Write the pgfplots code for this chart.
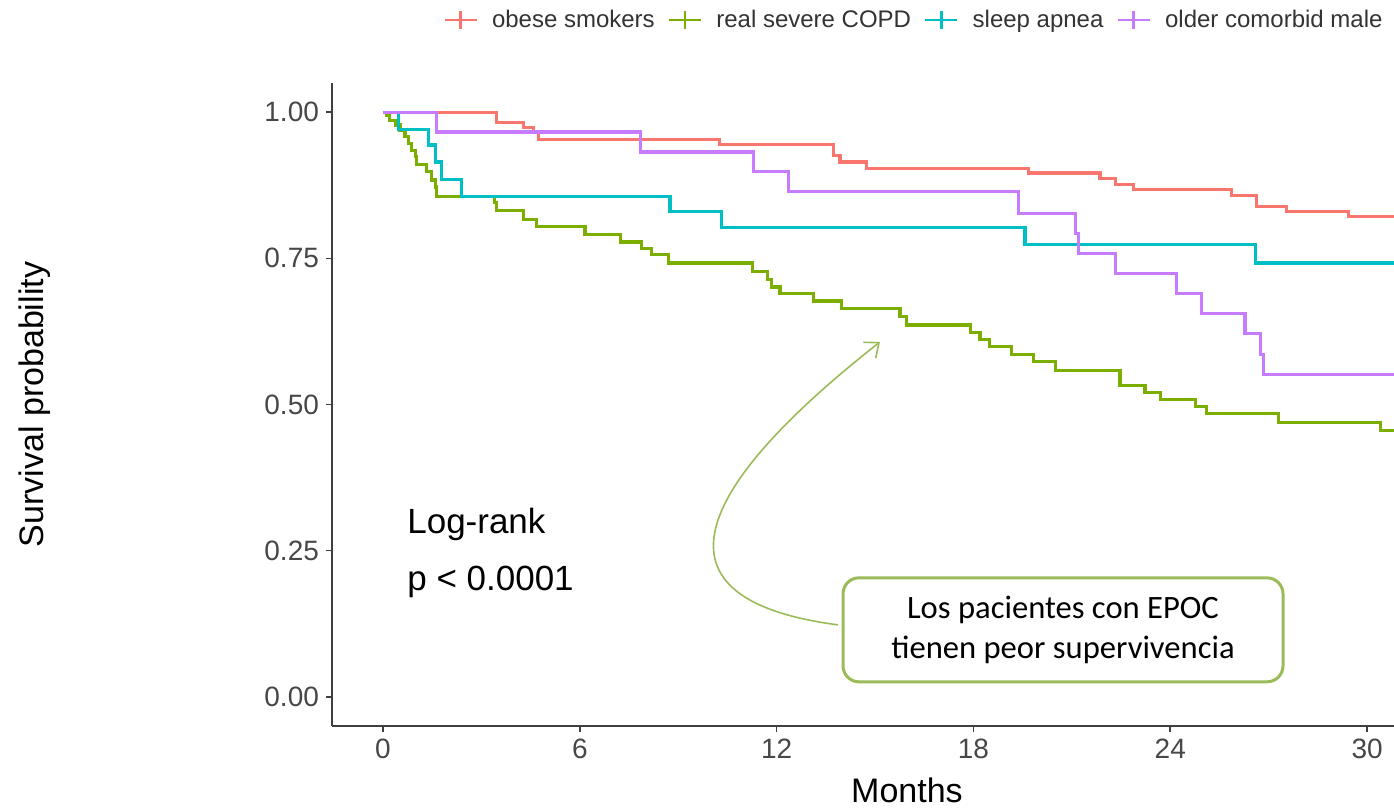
\documentclass[border=0pt]{standalone}
\usepackage{fontspec}
\setmainfont{Liberation Sans}
\newfontfamily\carlito{Carlito}
\usepackage{pgfplots}
\pgfplotsset{compat=1.18}
\usetikzlibrary{arrows.meta}

\definecolor{cRed}{HTML}{F8766D}
\definecolor{cGreen}{HTML}{7CAE00}
\definecolor{cCyan}{HTML}{00BFC4}
\definecolor{cPurple}{HTML}{C77CFF}
\definecolor{boxgreen}{HTML}{9BBB59}

\begin{document}
\begin{tikzpicture}
\begin{axis}[
  name=ax,
  at={(0pt,0pt)}, anchor=south west,
  scale only axis, width=531pt, height=321.5pt,
  xmin=-1.555, xmax=30.82, ymin=-0.05, ymax=1.05,
  axis x line*=bottom, axis y line*=left,
  axis line style={-, line width=1pt, black!75},
  xtick={0,6,12,18,24,30}, xticklabels={0,6,12,18,24,30},
  ytick={0,0.25,0.5,0.75,1}, yticklabels={0.00,0.25,0.50,0.75,1.00},
  tick align=outside, major tick length=3pt,
  tick style={line width=0.8pt, black!75},
  ticklabel style={font=\fontsize{14}{16}\selectfont, text=black!72},
  every axis y label/.style={at={(axis description cs:-0.2797,0.5)}, rotate=90, anchor=center},
  every axis x label/.style={at={(axis description cs:0.5414,-0.0995)}, anchor=center},
  label style={font=\fontsize{17}{20}\selectfont},
  ylabel={Survival probability},
  xlabel={Months},
  legend columns=4,
  legend style={at={(0.999,1.098)}, anchor=east, draw=none, fill=none,
    font=\fontsize{12}{14}\selectfont, text=black!80,
    /tikz/every odd column/.append style={column sep=5pt},
    /tikz/every even column/.append style={column sep=4.5pt}},
  legend image code/.code={
    \draw[#1, line width=1.3pt] (0pt,0pt) -- (16pt,0pt);
    \draw[#1, line width=1.3pt] (8pt,-4.5pt) -- (8pt,4.5pt);},
  every axis plot/.append style={const plot mark left, line width=1.6pt, mark=none},
]
% obese smokers
\addplot[cRed] coordinates {
  (0,1.0) (3.47,0.982) (4.28,0.974) (4.58,0.965) (4.74,0.954) (10.27,0.945)
  (13.73,0.926) (13.93,0.915) (14.75,0.904) (19.67,0.896) (21.86,0.887)
  (22.32,0.876) (22.88,0.868) (25.87,0.858) (26.64,0.839) (27.55,0.830)
  (29.43,0.821) (31.5,0.821)
};
\addlegendentry{obese smokers}
% real severe COPD
\addplot[cGreen] coordinates {
  (0,1.0) (0.11,0.995) (0.21,0.986) (0.37,0.978) (0.52,0.969) (0.67,0.958)
  (0.77,0.946) (0.87,0.935) (0.98,0.924) (1.03,0.911) (1.33,0.898)
  (1.48,0.884) (1.59,0.872) (1.64,0.856) (3.41,0.845) (3.47,0.832)
  (4.28,0.817) (4.69,0.805) (6.16,0.791) (7.23,0.778) (7.89,0.767)
  (8.19,0.756) (8.70,0.742) (11.27,0.727) (11.72,0.714) (11.85,0.701)
  (12.10,0.690) (13.12,0.677) (13.98,0.664) (15.76,0.650) (15.97,0.636)
  (17.90,0.623) (18.20,0.611) (18.50,0.599) (19.17,0.586) (19.83,0.573)
  (20.49,0.558) (22.47,0.533) (23.23,0.520) (23.69,0.508) (24.76,0.496)
  (25.11,0.484) (27.30,0.469) (30.40,0.455) (31.5,0.455)
};
\addlegendentry{real severe COPD}
% sleep apnea
\addplot[cCyan] coordinates {
  (0,1.0) (0.47,0.970) (1.38,0.944) (1.59,0.915) (1.79,0.885) (2.40,0.856)
  (8.75,0.830) (10.33,0.803) (19.57,0.774) (26.59,0.742) (31.5,0.742)
};
\addlegendentry{sleep apnea}
% older comorbid male
\addplot[cPurple] coordinates {
  (0,1.0) (1.64,0.966) (7.84,0.932) (11.29,0.899) (12.36,0.864) (19.37,0.827)
  (21.12,0.793) (21.20,0.758) (22.32,0.724) (24.20,0.690) (24.96,0.656)
  (26.28,0.621) (26.74,0.585) (26.84,0.552) (31.5,0.552)
};
\addlegendentry{older comorbid male}

\node[anchor=west, inner sep=0pt, font=\fontsize{17.5}{20}\selectfont] at (axis cs:0.73,0.294) {Log-rank};
\node[anchor=west, inner sep=0pt, font=\fontsize{17.5}{20}\selectfont] at (axis cs:0.73,0.197) {p < 0.0001};

\draw[boxgreen, line width=0.8pt, -{Straight Barb[length=6pt,width=10pt]}]
  (axis cs:13.87,0.123) .. controls (axis cs:7.5,0.17) and (axis cs:10,0.38) .. (axis cs:15.15,0.607);
\node[draw=boxgreen, line width=1.5pt, rounded corners=8pt, fill=white,
  minimum width=220pt, minimum height=52pt, align=center,
  font=\carlito\fontsize{16.3}{20}\selectfont]
  at (axis cs:20.73,0.1145) {Los pacientes con EPOC\\tienen peor supervivencia};
\end{axis}
\pgfresetboundingbox
\path ([shift={(-166pt,-41.5pt)}]ax.south west) rectangle ([shift={(0pt,363pt)}]ax.south east);
\end{tikzpicture}
\end{document}
